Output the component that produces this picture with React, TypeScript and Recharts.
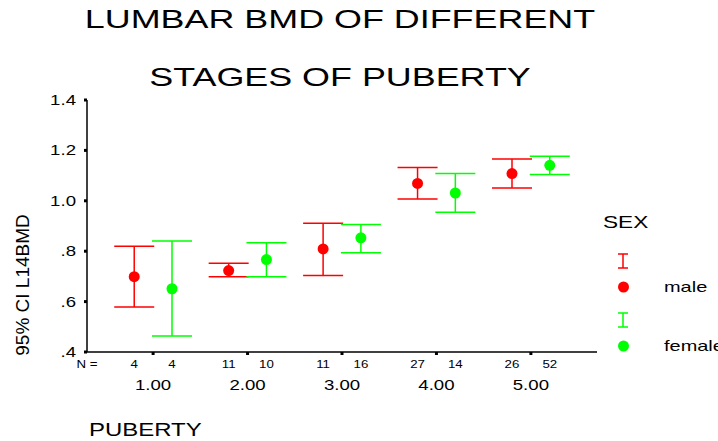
import { ComposedChart, Scatter, XAxis, YAxis, ErrorBar } from 'recharts';

const stages = [1, 2, 3, 4, 5];
const stageLabels = ['1.00', '2.00', '3.00', '4.00', '5.00'];

const maleMean = [0.699, 0.723, 0.809, 1.069, 1.108];
const maleLow = [0.579, 0.699, 0.704, 1.007, 1.051];
const maleHigh = [0.82, 0.752, 0.911, 1.132, 1.166];
const maleN = [4, 11, 11, 27, 26];

const femaleMean = [0.651, 0.767, 0.853, 1.031, 1.141];
const femaleLow = [0.463, 0.699, 0.794, 0.955, 1.104];
const femaleHigh = [0.84, 0.834, 0.906, 1.108, 1.177];
const femaleN = [4, 10, 16, 14, 52];

const yTicks = [0.4, 0.6, 0.8, 1.0, 1.2, 1.4];

const OFFSET = 0.2;
const FONT = 'Liberation Sans, Arial, sans-serif';
const STRETCH = 1.33; // the original text is drawn wide
const RED = '#ff0000';
const GREEN = '#00ff00';

const maleData = stages.map((s, i) => ({
  x: s - OFFSET,
  y: maleMean[i],
  err: [maleMean[i] - maleLow[i], maleHigh[i] - maleMean[i]],
}));

const femaleData = stages.map((s, i) => ({
  x: s + OFFSET,
  y: femaleMean[i],
  err: [femaleMean[i] - femaleLow[i], femaleHigh[i] - femaleMean[i]],
}));

// N axis ticks: "N =" at domain start, then the count under each point
const nTicks = [0.3];
const nLabels: Record<string, string> = { '0.3': 'N =' };
stages.forEach((s, i) => {
  const a = +(s - OFFSET).toFixed(1);
  const b = +(s + OFFSET).toFixed(1);
  nTicks.push(a, b);
  nLabels[String(a)] = String(maleN[i]);
  nLabels[String(b)] = String(femaleN[i]);
});

const fmtY = (v: number) => {
  const s = v.toFixed(1);
  return s.startsWith('0') ? s.slice(1) : s;
};

const WideText = ({ x, y, anchor, size, children }: any) => (
  <g transform={`translate(${x},${y})`}>
    <text transform={`scale(${STRETCH},1)`} textAnchor={anchor} dominantBaseline="central" fontSize={size} fontFamily={FONT} fill="#000">
      {children}
    </text>
  </g>
);

const Dot = (color: string) => (props: any) => (
  <circle cx={props.cx} cy={props.cy} r={5.5} fill={color} />
);

const StageTick = (props: any) => {
  const { x, payload } = props;
  const idx = stages.indexOf(payload.value);
  return (
    <WideText x={x} y={props.y + 28} anchor="middle" size={14}>
      {stageLabels[idx]}
    </WideText>
  );
};

const NTick = (props: any) => {
  const { x, y, payload } = props;
  return (
    <WideText x={x} y={y - 8} anchor="middle" size={10}>
      {nLabels[String(+payload.value.toFixed(1))] ?? ''}
    </WideText>
  );
};

const YTick = (props: any) => {
  const { x, y, payload } = props;
  return (
    <WideText x={x - 6} y={y} anchor="end" size={14}>
      {fmtY(payload.value)}
    </WideText>
  );
};

const wide = (left: number, top: number, size: number, text: string) => (
  <div
    style={{
      position: 'absolute',
      left,
      top,
      fontFamily: FONT,
      fontSize: size,
      lineHeight: 1,
      whiteSpace: 'nowrap',
      transform: `scaleX(${STRETCH})`,
      transformOrigin: 'left center',
    }}
  >
    {text}
  </div>
);

const LegendItem = ({ color, top, label }: { color: string; top: number; label: string }) => (
  <>
    <svg style={{ position: 'absolute', left: 615, top, overflow: 'visible' }} width={20} height={50}>
      <line x1={3} y1={1} x2={13} y2={1} stroke={color} strokeWidth={1.5} />
      <line x1={8} y1={1} x2={8} y2={15} stroke={color} strokeWidth={1.5} />
      <line x1={3} y1={15} x2={13} y2={15} stroke={color} strokeWidth={1.5} />
      <circle cx={8.5} cy={34} r={5.5} fill={color} />
    </svg>
    {wide(664, top + 26, 15, label)}
  </>
);

export default function App() {
  return (
    <div style={{ position: 'absolute', left: 0, top: 0, width: 718, height: 441, overflow: 'hidden', background: '#fff' }}>
      <div
        style={{
          position: 'absolute',
          left: 0,
          top: -10,
          width: 680,
          textAlign: 'center',
          fontFamily: FONT,
          fontSize: 26,
          lineHeight: '58px',
          transform: `scaleX(${STRETCH + 0.05})`,
          transformOrigin: '340px 0',
        }}
      >
        LUMBAR BMD OF DIFFERENT
        <br />
        STAGES OF PUBERTY
      </div>
      <ComposedChart
        width={718}
        height={441}
        margin={{ top: 100, right: 121, left: 27, bottom: 57 }}
        style={{ position: 'absolute', left: 0, top: 0 }}
      >
        <XAxis
          xAxisId="main"
          type="number"
          dataKey="x"
          domain={[0.3, 5.7]}
          ticks={stages}
          interval={0}
          height={12}
          axisLine={{ stroke: '#000', strokeWidth: 1.5 }}
          tickLine={{ stroke: '#000', strokeWidth: 3 }}
          tickSize={3}
          tick={<StageTick />}
        />
        <XAxis
          xAxisId="n"
          type="number"
          dataKey="x"
          domain={[0.3, 5.7]}
          ticks={nTicks}
          interval={0}
          height={20}
          axisLine={false}
          tickLine={false}
          tick={<NTick />}
        />
        <YAxis
          type="number"
          domain={[0.4, 1.4]}
          ticks={yTicks}
          interval={0}
          width={60}
          axisLine={{ stroke: '#000', strokeWidth: 1.5 }}
          tickLine={{ stroke: '#000', strokeWidth: 3 }}
          tickSize={3}
          tick={<YTick />}
        />
        <Scatter xAxisId="main" data={maleData} dataKey="y" fill={RED} shape={Dot(RED)} isAnimationActive={false}>
          <ErrorBar dataKey="err" direction="y" width={20} stroke={RED} strokeWidth={1.5} isAnimationActive={false} />
        </Scatter>
        <Scatter xAxisId="n" data={femaleData} dataKey="y" fill={GREEN} shape={Dot(GREEN)} isAnimationActive={false}>
          <ErrorBar dataKey="err" direction="y" width={20} stroke={GREEN} strokeWidth={1.5} isAnimationActive={false} />
        </Scatter>
      </ComposedChart>
      <div
        style={{
          position: 'absolute',
          left: 23,
          top: 285,
          transform: 'translate(-50%, -50%) rotate(-90deg)',
          fontFamily: FONT,
          fontSize: 19,
          whiteSpace: 'nowrap',
        }}
      >
        95% CI L14BMD
      </div>
      {wide(89, 421, 18, 'PUBERTY')}
      {wide(603, 214, 17, 'SEX')}
      <LegendItem color={RED} top={253} label="male" />
      <LegendItem color={GREEN} top={312} label="female" />
    </div>
  );
}
